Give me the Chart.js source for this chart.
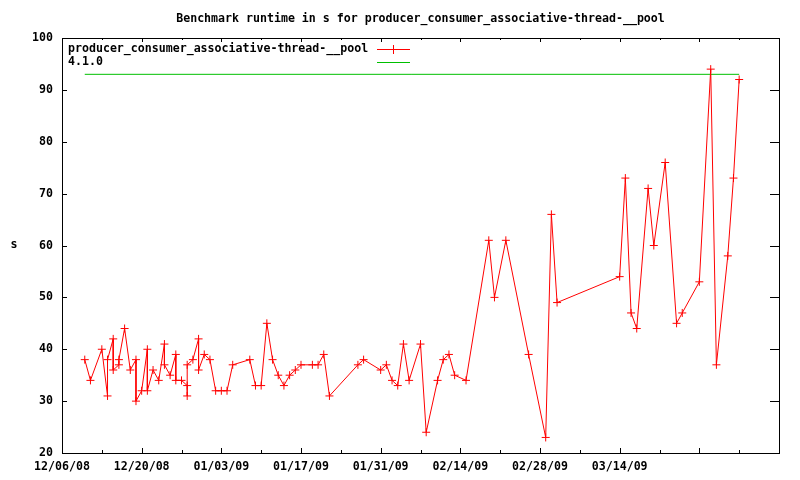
<!DOCTYPE html>
<html lang="en">
  <head>
    <meta charset="UTF-8" />
    <title>Benchmark runtime</title>
    <style>
      body { margin: 0; background: #fff; }
      #wrap { width: 800px; height: 480px; }
    </style>
  </head>
  <body>
    <div id="wrap"><canvas id="chart" width="800" height="480"></canvas></div>
    <script src="https://cdn.jsdelivr.net/npm/chart.js@4/dist/chart.umd.min.js"></script>
    <script>
// data
var runDates = [
  '2008-12-10','2008-12-11','2008-12-13','2008-12-14','2008-12-14','2008-12-15','2008-12-15','2008-12-16','2008-12-16','2008-12-17',
  '2008-12-18','2008-12-19','2008-12-19','2008-12-20','2008-12-21','2008-12-21','2008-12-22','2008-12-23','2008-12-24','2008-12-24',
  '2008-12-25','2008-12-26','2008-12-26','2008-12-27','2008-12-28','2008-12-28','2008-12-28','2008-12-29','2008-12-30','2008-12-30',
  '2008-12-31',
  '2009-01-01','2009-01-02','2009-01-03','2009-01-04','2009-01-05','2009-01-08','2009-01-09','2009-01-10','2009-01-11','2009-01-12',
  '2009-01-13','2009-01-14','2009-01-15','2009-01-16','2009-01-17','2009-01-19','2009-01-20','2009-01-21','2009-01-22','2009-01-27',
  '2009-01-28','2009-01-31',
  '2009-02-01','2009-02-02','2009-02-03','2009-02-04','2009-02-05','2009-02-07','2009-02-08','2009-02-10','2009-02-11','2009-02-12',
  '2009-02-13','2009-02-15','2009-02-19','2009-02-20','2009-02-22','2009-02-26',
  '2009-03-01','2009-03-02','2009-03-03','2009-03-14','2009-03-15','2009-03-16','2009-03-17','2009-03-19','2009-03-20','2009-03-22',
  '2009-03-24','2009-03-25','2009-03-28','2009-03-30','2009-03-31','2009-04-02','2009-04-03','2009-04-04'
];
var runSeconds = [
  38,34,40,31,38,42,36,37,38,44,
  36,38,30,32,40,32,36,34,41,37,
  35,39,34,34,33,31,37,38,42,36,
  39,
  38,32,32,32,37,38,33,33,45,38,
  35,33,35,36,37,37,37,39,31,37,
  38,36,
  37,34,33,41,34,41,24,34,38,39,
  35,34,61,50,61,39,
  23,66,49,54,73,47,44,71,60,76,
  45,47,53,94,37,58,73,92
];
var versionDates = ['2008-12-10', '2009-04-04'];
var versionSeconds = [93, 93];

var xTickLabels = ['12/06/08','12/20/08','01/03/09','01/17/09','01/31/09','02/14/09','02/28/09','03/14/09'];
var yMin = 20, yMax = 100, yStep = 10;

var titleText = 'Benchmark runtime in s for producer_consumer_associative-thread-__pool';
var runLabel = 'producer_consumer_associative-thread-__pool';
var versionLabel = '4.1.0';
var RED = '#ff0000', GREEN = '#00c000';

var startDay = Date.UTC(2008, 11, 6);
var dayOf = function (s) {
  var p = s.split('-').map(Number);
  return (Date.UTC(p[0], p[1] - 1, p[2]) - startDay) / 86400000;
};
var toPoints = function (dates, vals) {
  return dates.map(function (d, i) { return { x: dayOf(d), y: vals[i] }; });
};

var FONT = 'bold 11.6px "DejaVu Sans Mono"';

// gnuplot look: frame, inward ticks, title, legend, y label
var gnuplotBits = {
  id: 'gnuplotBits',
  afterDraw: function (chart) {
    var ctx = chart.ctx, a = chart.chartArea;
    var x = chart.scales.x, y = chart.scales.y;
    ctx.save();
    ctx.strokeStyle = '#000';
    ctx.lineWidth = 1;
    ctx.strokeRect(a.left + 0.5, a.top + 0.5, a.right - a.left, a.bottom - a.top);

    ctx.beginPath();
    for (var d = x.min; d <= x.max; d += 7) {
      var px = Math.round(x.getPixelForValue(d)) + 0.5;
      var major = (d % 14) === 0;
      ctx.moveTo(px, a.bottom); ctx.lineTo(px, a.bottom - (major ? 5 : 3));
      ctx.moveTo(px, a.top); ctx.lineTo(px, a.top + (major ? 4 : 2));
    }
    for (var v = yMin; v <= yMax; v += yStep) {
      var py = Math.round(y.getPixelForValue(v)) + 0.5;
      ctx.moveTo(a.left, py); ctx.lineTo(a.left + 5, py);
      ctx.moveTo(a.right, py); ctx.lineTo(a.right - 9, py);
    }
    ctx.stroke();

    ctx.fillStyle = '#000';
    ctx.font = FONT;
    ctx.textBaseline = 'middle';
    ctx.textAlign = 'center';
    ctx.fillText(titleText, (a.left + a.right) / 2, 19);
    ctx.fillText('s', 14, 245);

    // legend, text left, sample right
    var keys = [[runLabel, RED, true], [versionLabel, GREEN, false]];
    ctx.textAlign = 'left';
    keys.forEach(function (k, i) {
      var ly = 49 + i * 13;
      ctx.fillStyle = '#000';
      ctx.fillText(k[0], 68, ly);
      ctx.strokeStyle = k[1];
      ctx.beginPath();
      ctx.moveTo(377, ly + 0.5); ctx.lineTo(410, ly + 0.5);
      if (k[2]) {
        ctx.moveTo(393.5, ly - 4); ctx.lineTo(393.5, ly + 5);
        ctx.moveTo(389, ly + 0.5); ctx.lineTo(398, ly + 0.5);
      }
      ctx.stroke();
    });
    ctx.restore();
  }
};

var ctx = document.getElementById('chart').getContext('2d');
var chart = new Chart(ctx, {
  type: 'line',
  data: {
    datasets: [{
      label: runLabel,
      data: toPoints(runDates, runSeconds),
      borderColor: RED,
      backgroundColor: RED,
      borderWidth: 1,
      pointStyle: 'cross',
      pointRadius: 4,
      pointBorderWidth: 1,
      pointBorderColor: RED,
      tension: 0,
      fill: false
    }, {
      label: versionLabel,
      data: toPoints(versionDates, versionSeconds),
      borderColor: GREEN,
      backgroundColor: GREEN,
      borderWidth: 1,
      pointRadius: 0,
      tension: 0,
      fill: false
    }]
  },
  options: {
    responsive: false,
    animation: false,
    events: [],
    layout: { padding: { top: 38, right: 21, left: 0, bottom: 0 } },
    plugins: { legend: { display: false }, title: { display: false }, tooltip: { enabled: false } },
    scales: {
      x: {
        type: 'linear',
        min: 0,
        max: 126,
        grid: { display: false, drawTicks: false },
        border: { display: false },
        ticks: {
          stepSize: 14,
          autoSkip: false,
          maxRotation: 0,
          padding: 7,
          color: '#000',
          font: { family: 'DejaVu Sans Mono', size: 11.6, weight: 'bold' },
          callback: function (v) { return xTickLabels[v / 14] || ''; }
        },
        afterFit: function (s) { s.height = 27; }
      },
      y: {
        min: yMin,
        max: yMax,
        grid: { display: false, drawTicks: false },
        border: { display: false },
        ticks: {
          stepSize: yStep,
          padding: 9,
          color: '#000',
          font: { family: 'DejaVu Sans Mono', size: 11.6, weight: 'bold' }
        },
        afterFit: function (s) { s.width = 62; }
      }
    }
  },
  plugins: [gnuplotBits]
});
    </script>
  </body>
</html>
